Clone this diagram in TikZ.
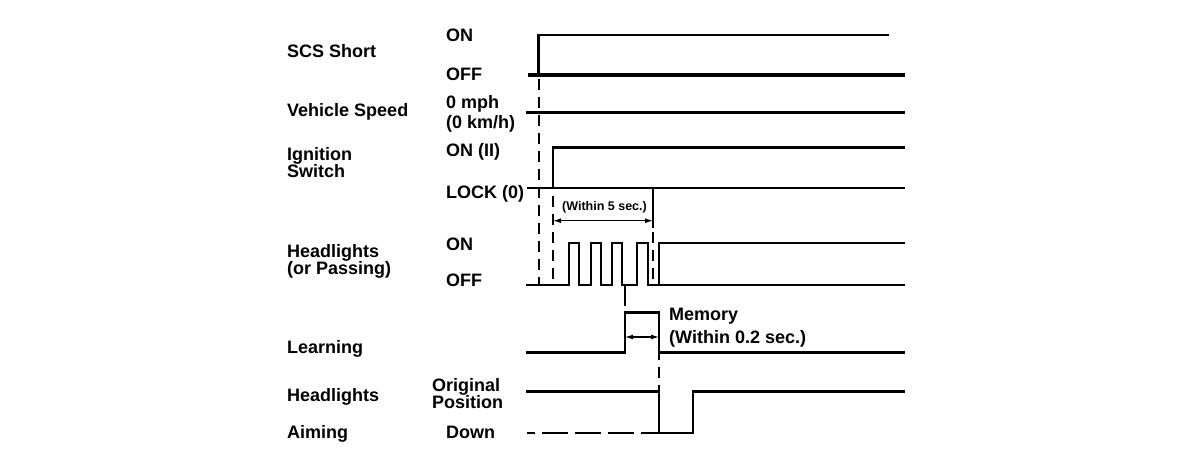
\documentclass[tikz,border=0pt]{standalone}
\usepackage{fontspec}
\setmainfont{Liberation Sans}
\usetikzlibrary{arrows.meta}
\begin{document}
\begin{tikzpicture}[x=1pt,y=-1pt,
  lbl/.style={anchor=base west,inner sep=0pt,font=\bfseries\fontsize{18}{18}\selectfont},
  smalllbl/.style={anchor=base west,inner sep=0pt,font=\bfseries\fontsize{12.5}{12.5}\selectfont},
  sig/.style={line width=2.8pt,line join=miter,line cap=rect},
  thicksig/.style={line width=3.8pt},
  guide/.style={line width=1.4pt,dash pattern=on 11pt off 7pt},
  solidguide/.style={line width=1.4pt},
  dim/.style={line width=1.2pt,{Latex[length=8pt,width=5pt]}-{Latex[length=8pt,width=5pt]}}]
\useasboundingbox[fill=white] (0,0) rectangle (1184,472);

% ---- left labels
\node[lbl] (scs) at (287,57) {SCS Short};
\node[lbl] (vs) at (287,116) {Vehicle Speed};
\node[lbl] (ig1) at (287,160) {Ignition};
\node[lbl] (ig2) at (287,177.5) {Switch};
\node[lbl] (hl1) at (287,257) {Headlights};
\node[lbl] (hl2) at (287,274.5) {(or Passing)};
\node[lbl] (lrn) at (287,353) {Learning};
\node[lbl] (ha1) at (287,401.5) {Headlights};
\node[lbl] (ha2) at (287,438) {Aiming};

% ---- state labels
\node[lbl] (on1) at (446,41) {ON};
\node[lbl] (off1) at (446,80) {OFF};
\node[lbl] (mph) at (446,108) {0 mph};
\node[lbl] (kmh) at (446,128.5) {(0 km/h)};
\node[lbl] (onii) at (446,156) {ON (II)};
\node[lbl] (lock) at (446,198) {LOCK (0)};
\node[lbl] (on2) at (446,250) {ON};
\node[lbl] (off2) at (446,286.5) {OFF};
\node[lbl] (orig) at (432,391) {Original};
\node[lbl] (pos) at (432,408) {Position};
\node[lbl] (down) at (446,438) {Down};

% ---- SCS short
\draw[thicksig] (528,75) -- (905,75);
\draw[sig] (538.5,75) -- (538.5,35) -- (888,35);
% ---- vehicle speed
\draw[sig] (527,112.7) -- (904,112.7);
% ---- ignition
\draw[sig] (528,188) -- (904,188);
\draw[sig] (553,188) -- (553,147.7) -- (904,147.7);
% ---- headlights (or passing)
\draw[sig] (527,285) -- (569,285) -- (569,243) -- (579,243) -- (579,285)
  -- (591,285) -- (591,243) -- (601,243) -- (601,285)
  -- (612,285) -- (612,243) -- (622,243) -- (622,285)
  -- (637,285) -- (637,243) -- (648,243) -- (648,285) -- (904,285);
\draw[sig] (659,285) -- (659,243) -- (904,243);
% ---- learning
\draw[sig] (527,352.5) -- (625,352.5) -- (625,312.7) -- (659,312.7) -- (659,352.5) -- (904,352.5);
% ---- headlight aiming
\draw[sig] (527,391.7) -- (659,391.7) -- (659,433) -- (693,433) -- (693,391.7) -- (904,391.7);
\draw[sig,line cap=butt,dash pattern=on 26pt off 7pt,dash phase=18pt] (527,433) -- (659,433);

% ---- guide lines
\draw[guide,dash phase=-4pt] (539,75) -- (539,284);
\draw[guide,dash phase=-8pt] (553,188) -- (553,285);
\draw[solidguide] (653,188) -- (653,228);
\draw[guide,dash phase=-4pt] (653,228) -- (653,285);
\draw[solidguide] (625,285) -- (625,306);
\draw[guide,dash phase=-14pt] (659,352.5) -- (659,391.7);

% ---- dimension arrows
\draw[dim] (553,220.7) -- (653,220.7);
\node[smalllbl] (w5) at (562,210.7) {(Within 5 sec.)};
\draw[dim] (625,337) -- (659,337);
\node[lbl] (mem) at (669,320.5) {Memory};
\node[lbl] (w02) at (669,343) {(Within 0.2 sec.)};
\end{tikzpicture}
\end{document}
